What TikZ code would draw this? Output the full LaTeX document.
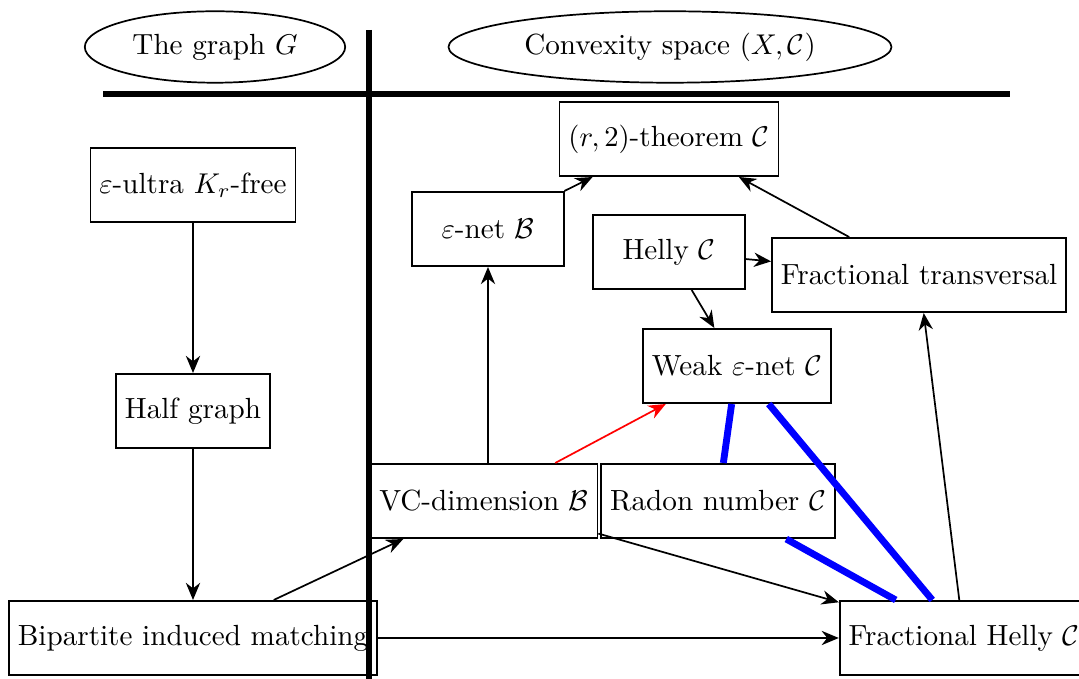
\documentclass[tikz,border=0pt]{standalone}
\usepackage{amsmath,amssymb}
\usetikzlibrary{arrows.meta,shapes.geometric}

\begin{document}
\begin{tikzpicture}[x=0.0123cm, y=-0.0123cm,
	every node/.style={font=\fontsize{10.2pt}{12pt}\selectfont},
	box/.style={draw, semithick, rectangle, minimum height=26pt, minimum width=53pt, inner xsep=3.1pt},
	side/.style={draw, semithick, ellipse, minimum height=25pt},
	imp/.style={-{Stealth[length=6pt,width=5pt]}, semithick},
	strong/.style={blue, line width=2.4pt},
	wall/.style={line width=2.3pt}]
	\useasboundingbox (0,0) rectangle (1079,679);
	% headers
	\node[side, minimum width=91pt] (graph) at (215,47) {The graph $G$};
	\node[side, minimum width=155pt] (space) at (670,47) {Convexity space $(X,\mathcal{C})$};
	% graph side
	\node[box] (ultra) at (193,185) {$\varepsilon$-ultra $K_r$-free};
	\node[box] (half) at (193,411) {Half graph};
	\node[box] (bip) at (193,638) {Bipartite induced matching};
	% convexity side
	\node[box] (thm) at (669,139) {$(r,2)$-theorem $\mathcal{C}$};
	\node[box] (enet) at (488,229) {$\varepsilon$-net $\mathcal{B}$};
	\node[box] (helly) at (669,252) {Helly $\mathcal{C}$};
	\node[box] (ftrans) at (919,275) {Fractional transversal};
	\node[box] (weak) at (737,366) {Weak $\varepsilon$-net $\mathcal{C}$};
	\node[box] (vc) at (484,501) {VC-dimension $\mathcal{B}$};
	\node[box] (radon) at (718,501) {Radon number $\mathcal{C}$};
	\node[box] (fhelly) at (964,638) {Fractional Helly $\mathcal{C}$};
	% implications
	\draw[imp] (ultra) -- (half);
	\draw[imp] (half) -- (bip);
	\draw[imp] (bip) -- (vc);
	\draw[imp] (bip) -- (fhelly);
	\draw[imp] (vc) -- (fhelly);
	\draw[imp] (enet |- vc.north) -- (enet.south);
	\draw[imp, red] (vc) -- (weak);
	\draw[imp] (enet) -- (thm);
	\draw[imp] (ftrans) -- (thm);
	\draw[imp] (helly) -- (ftrans);
	\draw[imp] (helly) -- (weak);
	\draw[imp] (fhelly) -- (ftrans);
	\draw[strong] (weak) -- (radon);
	\draw[strong] (weak) -- (fhelly);
	\draw[strong] (radon) -- (fhelly);
	% separators
	\draw[wall] (103,94) -- (1010,94);
	\draw[wall] (369,30) -- (369,679);
\end{tikzpicture}
\end{document}
